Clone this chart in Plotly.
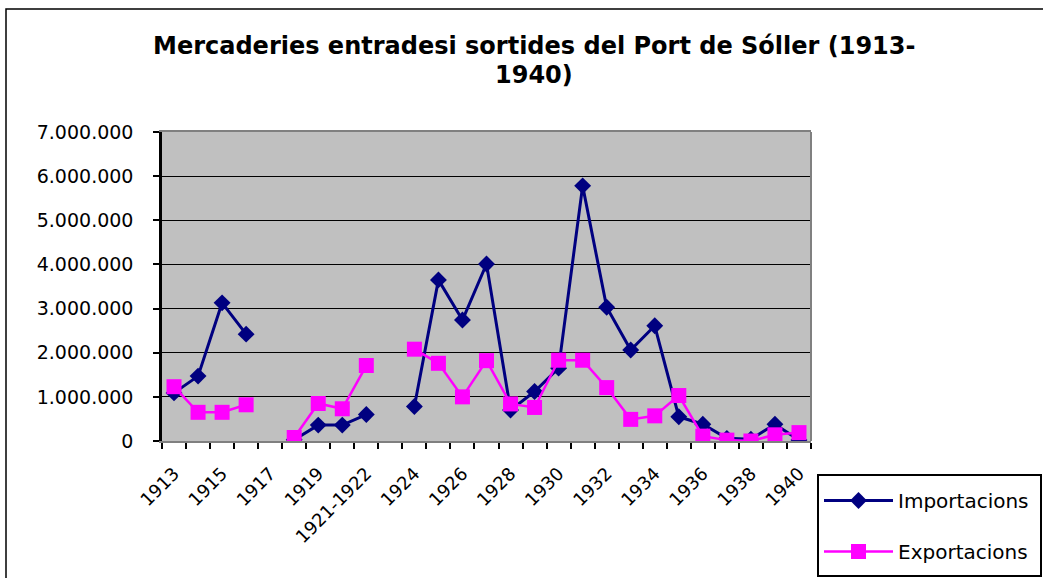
import plotly.graph_objects as go

categories = ["1913", "1914", "1915", "1916", "1917", "1918", "1919", "1920",
              "1921-1922", "1923", "1924", "1925", "1926", "1927", "1928", "1929",
              "1930", "1931", "1932", "1933", "1934", "1935", "1936", "1937",
              "1938", "1939", "1940"]

importacions = [1090000, 1470000, 3130000, 2420000, None, 30000, 360000, 360000,
                600000, None, 780000, 3650000, 2740000, 4010000, 700000, 1120000,
                1650000, 5780000, 3030000, 2060000, 2610000, 550000, 380000, 60000,
                40000, 380000, 20000]

exportacions = [1230000, 650000, 650000, 820000, None, 80000, 850000, 730000,
                1710000, None, 2080000, 1760000, 1000000, 1820000, 840000, 760000,
                1830000, 1830000, 1210000, 490000, 570000, 1030000, 110000, 20000,
                0, 140000, 190000]

tick_labels = [c if i % 2 == 0 else "" for i, c in enumerate(categories)]

title_line1 = "Mercaderies entradesi sortides del Port de Sóller (1913-"
title_line2 = "1940)"

W, H = 1043, 578
L, R, T, B = 162, 811, 132, 441


def px_x(x):
    return (x - L) / (R - L)


def px_y(y):
    return (B - y) / (B - T)


fig = go.Figure()
fig.add_trace(go.Scatter(
    x=categories, y=importacions, name="Importacions", mode="lines+markers",
    line=dict(color="#000080", width=3),
    marker=dict(symbol="diamond", size=13, color="#000080"),
    connectgaps=False, legendgroup="a"))
fig.add_trace(go.Scatter(
    x=categories, y=exportacions, name="Exportacions", mode="lines+markers",
    line=dict(color="#FF00FF", width=2.5),
    marker=dict(symbol="square", size=15, color="#FF00FF"),
    connectgaps=False, legendgroup="b"))

fig.update_layout(
    width=W, height=H,
    margin=dict(l=L, r=W - R, t=T, b=H - B, autoexpand=False),
    paper_bgcolor="white", plot_bgcolor="#C0C0C0",
    separators=",.",
    font=dict(family="DejaVu Sans", color="black", size=19),
    showlegend=True,
    legend=dict(x=px_x(817), y=px_y(479), xanchor="left", yanchor="top",
                bordercolor="rgba(0,0,0,0)", borderwidth=2, bgcolor="rgba(0,0,0,0)",
                font=dict(family="DejaVu Sans", size=20, color="black"),
                traceorder="grouped", tracegroupgap=22, itemwidth=69),
    xaxis=dict(type="category", tickmode="array", tickvals=categories,
               ticktext=tick_labels, tickangle=-45, tickson="boundaries",
               ticks="outside", ticklen=6, tickcolor="black", tickwidth=1.5,
               showline=True, linecolor="#808080", linewidth=2, mirror=True,
               showgrid=False, tickfont=dict(family="DejaVu Sans", size=18),
               range=[-0.5, len(categories) - 0.5], ticklabelstandoff=13),
    yaxis=dict(range=[0, 7000000], dtick=1000000, tickformat=",d",
               showgrid=True, gridcolor="black", gridwidth=1,
               zeroline=False, showline=True, linecolor="black", linewidth=2.5,
               ticks="outside", ticklen=6, tickcolor="black", tickwidth=1.5,
               tickfont=dict(family="DejaVu Sans", size=19),
               ticklabelstandoff=16),
    annotations=[
        dict(text="<b>" + title_line1 + "</b>", xref="paper", yref="paper",
             x=px_x(534), y=px_y(46), xanchor="center", yanchor="middle",
             showarrow=False, borderpad=0,
             font=dict(family="DejaVu Sans", size=24, color="black")),
        dict(text="<b>" + title_line2 + "</b>", xref="paper", yref="paper",
             x=px_x(534), y=px_y(75), xanchor="center", yanchor="middle",
             showarrow=False, borderpad=0,
             font=dict(family="DejaVu Sans", size=24, color="black")),
    ],
    shapes=[
        dict(type="line", xref="paper", yref="paper", x0=1, x1=1, y0=0, y1=1,
             line=dict(color="#808080", width=2), layer="above"),
        dict(type="rect", xref="paper", yref="paper",
             x0=px_x(6), y0=px_y(9), x1=px_x(1100), y1=px_y(640),
             line=dict(color="black", width=1.5), fillcolor="rgba(0,0,0,0)",
             layer="above"),
        dict(type="rect", xref="paper", yref="paper",
             x0=px_x(818), y0=px_y(475), x1=px_x(1041), y1=px_y(576),
             line=dict(color="black", width=2), fillcolor="rgba(0,0,0,0)",
             layer="above"),
    ],
)

fig.write_html("out.html", config={"displayModeBar": False},
               post_script="document.body.style.margin='0px';document.body.style.overflow='hidden';")
